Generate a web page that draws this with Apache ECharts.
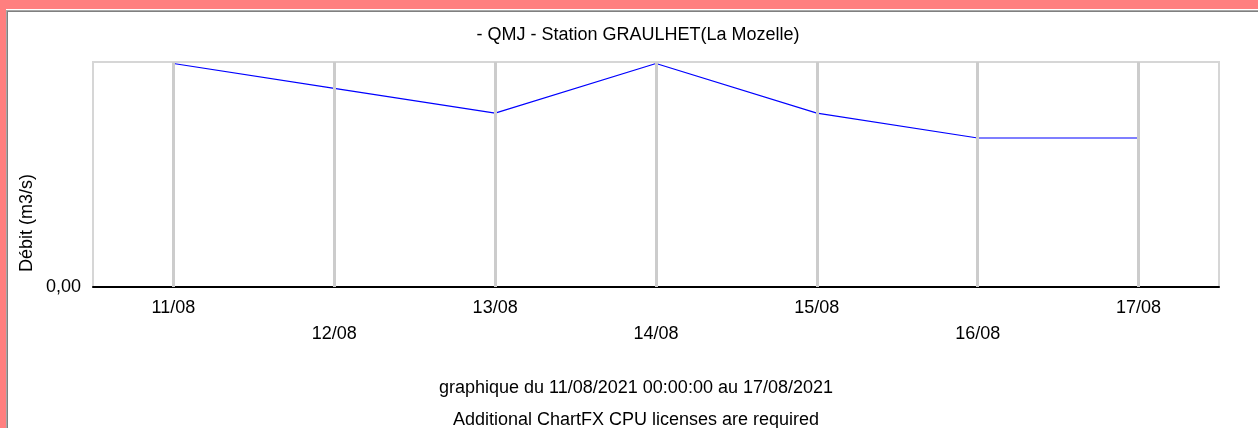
<!DOCTYPE html>
<html><head><meta charset="utf-8">
<script src="https://cdn.jsdelivr.net/npm/echarts@6/dist/echarts.min.js"></script>
<style>html,body{margin:0;padding:0;background:#fff;}#c{width:1258px;height:428px;}</style>
</head><body><div id="c"></div>
<script>
const categories = ['11/08','12/08','13/08','14/08','15/08','16/08','17/08'];
const values = [0.09, 0.08, 0.07, 0.09, 0.07, 0.06, 0.06];
const yTickLabels = ['0,00'];
const titleText = '- QMJ - Station GRAULHET(La Mozelle)';
const yName = 'Débit (m3/s)';
const footer1 = 'graphique du 11/08/2021 00:00:00 au 17/08/2021';
const footer2 = 'Additional ChartFX CPU licenses are required';

const FONT = '"Liberation Sans", Arial, sans-serif';
const FS = 18;
const chart = echarts.init(document.getElementById('c'), null, {renderer:'canvas'});
chart.setOption({
  animation: false,
  backgroundColor: '#ffffff',
  grid: {left: 93, right: 39, top: 62, bottom: 141, show: true, borderColor: '#d6d6d6', borderWidth: 2, backgroundColor: 'transparent'},
  xAxis: {
    type: 'category', data: categories, boundaryGap: true,
    axisLine: {show: true, lineStyle: {color: '#000', width: 2}},
    axisTick: {show: false},
    splitLine: {show: false},
    axisLabel: {
      color: '#000', fontFamily: FONT, fontSize: FS, lineHeight: 26, margin: 8, interval: 0,
      formatter: (v, i) => (i % 2 ? '\n' + v : v)
    }
  },
  yAxis: {
    type: 'value', min: 0, max: 0.0906, interval: 0.0906,
    axisLine: {show: false}, axisTick: {show: false}, splitLine: {show: false},
    axisLabel: {color: '#000', fontFamily: FONT, fontSize: FS, margin: 12,
      formatter: v => (v === 0 ? yTickLabels[0] : '')}
  },
  series: [{
    type: 'line', data: values, symbol: 'none', silent: true,
    lineStyle: {color: '#0000ff', width: 1.2},
    markLine: {
      silent: true, symbol: ['none','none'], label: {show: false},
      lineStyle: {color: '#cccccc', width: 3, type: 'solid'},
      emphasis: {disabled: true},
      data: categories.map(c => ({xAxis: c}))
    },
    z: 3
  }],
  graphic: [
    {type:'rect', shape:{x:0,y:0,width:1258,height:9}, style:{fill:'#ff7f7f'}, silent:true},
    {type:'rect', shape:{x:0,y:0,width:6,height:428}, style:{fill:'#ff7f7f'}, silent:true},
    {type:'rect', shape:{x:6,y:10,width:1252,height:1}, style:{fill:'#a8a8a8'}, silent:true},
    {type:'rect', shape:{x:6,y:11,width:1252,height:1}, style:{fill:'#808080'}, silent:true},
    {type:'rect', shape:{x:6,y:10,width:1,height:418}, style:{fill:'#a8a8a8'}, silent:true},
    {type:'rect', shape:{x:7,y:11,width:1,height:417}, style:{fill:'#808080'}, silent:true},
    {type:'text', x:638, y:35, style:{text:titleText, fill:'#000', font:FS + 'px ' + FONT, textAlign:'center', textVerticalAlign:'middle'}},
    {type:'text', x:636, y:388, style:{text:footer1, fill:'#000', font:FS + 'px ' + FONT, textAlign:'center', textVerticalAlign:'middle'}},
    {type:'text', x:636, y:420, style:{text:footer2, fill:'#000', font:FS + 'px ' + FONT, textAlign:'center', textVerticalAlign:'middle'}},
    {type:'text', x:27, y:223, rotation: Math.PI/2, style:{text:yName, fill:'#000', font:FS + 'px ' + FONT, textAlign:'center', textVerticalAlign:'middle'}}
  ]
});
</script></body></html>
